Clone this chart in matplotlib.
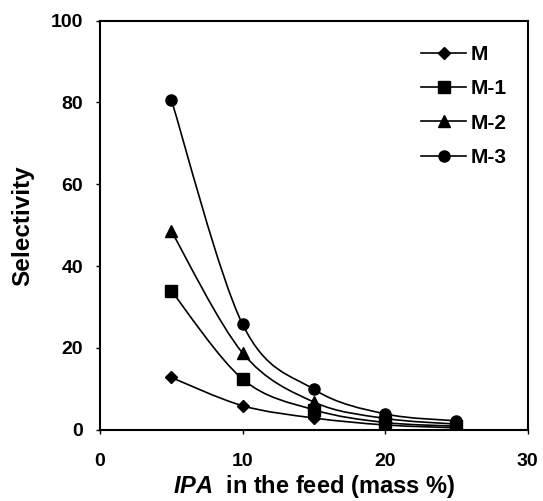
import numpy as np
import matplotlib
matplotlib.use("Agg")
import matplotlib.pyplot as plt
from matplotlib.path import Path
from matplotlib.patches import PathPatch
from matplotlib.lines import Line2D

plt.rcParams["font.family"] = ["Liberation Sans", "DejaVu Sans"]
plt.rcParams["font.weight"] = "bold"
plt.rcParams["axes.labelweight"] = "bold"
plt.rcParams["mathtext.fontset"] = "custom"
plt.rcParams["mathtext.it"] = "Liberation Sans:italic:bold"
plt.rcParams["mathtext.rm"] = "Liberation Sans:bold"

feed = [5, 10, 15, 20, 25]
sel_M = [12.8, 5.9, 2.9, 1.2, 0.5]
sel_M1 = [34.0, 12.4, 4.9, 1.8, 0.9]
sel_M2 = [48.6, 18.8, 6.8, 2.8, 1.4]
sel_M3 = [80.7, 25.8, 9.9, 3.9, 2.2]
labels = ["M", "M-1", "M-2", "M-3"]
markers = ["D", "s", "^", "o"]
msizes = [6.5, 8, 8.5, 8]


def smooth_path(x, y):
    # Catmull-Rom style bezier, like Excel's smoothed lines
    x = np.asarray(x, float)
    y = np.asarray(y, float)
    verts = [(x[0], y[0])]
    codes = [Path.MOVETO]
    n = len(x)
    for i in range(n - 1):
        p0 = i - 1 if i > 0 else i
        p3 = i + 2 if i + 2 < n else i + 1
        c1 = (x[i] + (x[i + 1] - x[p0]) / 6, y[i] + (y[i + 1] - y[p0]) / 6)
        c2 = (x[i + 1] - (x[p3] - x[i]) / 6, y[i + 1] - (y[p3] - y[i]) / 6)
        verts += [c1, c2, (x[i + 1], y[i + 1])]
        codes += [Path.CURVE4] * 3
    return Path(verts, codes)


fig = plt.figure(figsize=(5.43, 5.01), dpi=100)
ax = fig.add_axes([0.184, 0.142, 0.788, 0.817])

handles = []
for ys, lab, mk, ms in zip([sel_M, sel_M1, sel_M2, sel_M3], labels, markers, msizes):
    ax.add_patch(PathPatch(smooth_path(feed, ys), facecolor="none",
                           edgecolor="black", lw=1.2, zorder=2))
    ax.plot(feed, ys, linestyle="none", marker=mk, ms=ms, color="black", zorder=3)
    handles.append(Line2D([], [], color="black", lw=1.2, marker=mk, ms=ms, label=lab))

ax.set_xlim(0, 30)
ax.set_ylim(0, 100)
ax.set_xticks([0, 10, 20, 30])
ax.set_yticks([0, 20, 40, 60, 80, 100])
ax.tick_params(direction="out", length=3, width=1, labelsize=14, pad=9)
ax.tick_params(axis="x", pad=14)
for s in ax.spines.values():
    s.set_linewidth(1.5)

ax.set_xlabel(r"$\mathit{IPA}$  in the feed (mass %)", fontsize=17, labelpad=2)
ax.set_ylabel("Selectivity", fontsize=17.5, labelpad=12)

leg = ax.legend(handles=handles, loc="upper left", bbox_to_anchor=(0.73, 0.96),
                frameon=False, fontsize=15, handlelength=2.2, labelspacing=0.73,
                handletextpad=0.2, borderaxespad=0)

fig.savefig("out.png", dpi=100)
